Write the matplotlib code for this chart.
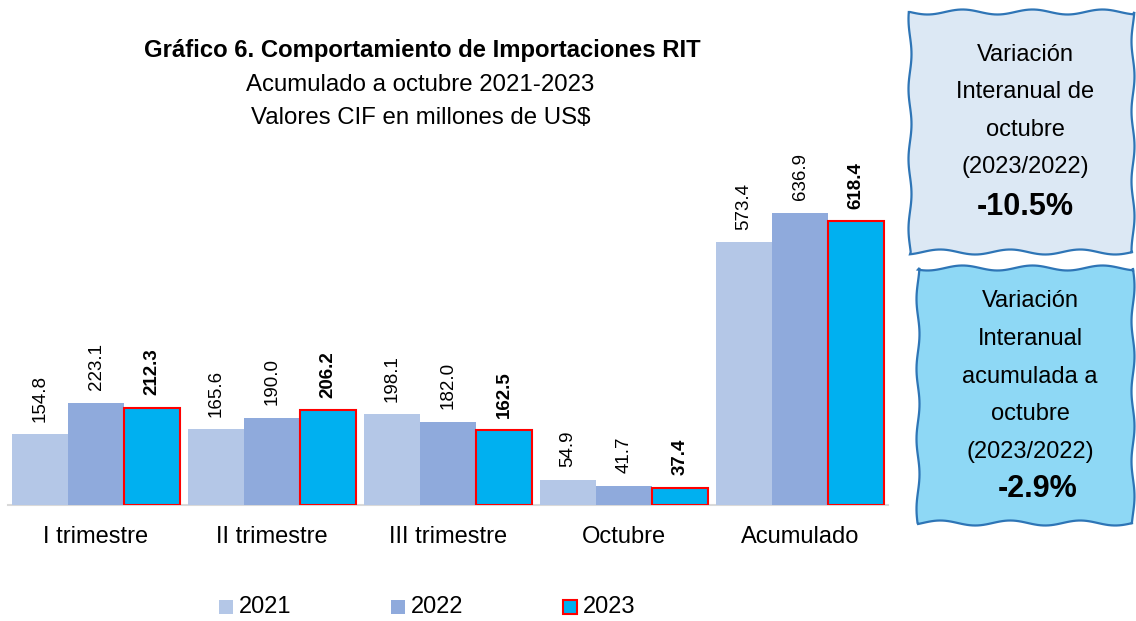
import numpy as np
import matplotlib
matplotlib.use("Agg")
import matplotlib.pyplot as plt
from matplotlib.patches import Polygon, Rectangle

categories = ["I trimestre", "II trimestre", "III trimestre", "Octubre", "Acumulado"]
series_names = ["2021", "2022", "2023"]
v2021 = [154.8, 165.6, 198.1, 54.9, 573.4]
v2022 = [223.1, 190.0, 182.0, 41.7, 636.9]
v2023 = [212.3, 206.2, 162.5, 37.4, 618.4]
box1_lines = ["Variación", "Interanual de", "octubre", "(2023/2022)"]
box1_value = "-10.5%"
box2_lines = ["Variación", "Interanual", "acumulada a", "octubre", "(2023/2022)"]
box2_value = "-2.9%"

FONT = ["Liberation Sans Narrow", "Liberation Sans", "DejaVu Sans"]
plt.rcParams['font.family'] = FONT

W, H = 1136, 621
fig = plt.figure(figsize=(W / 100, H / 100), dpi=100)
fig.patch.set_facecolor("white")

# axes: x 8..888 px, y baseline 505, top 30
ax_left, ax_right = 8, 888
ax_bottom, ax_top = 505, 30
ax = fig.add_axes([ax_left / W, 1 - ax_bottom / H, (ax_right - ax_left) / W, (ax_bottom - ax_top) / H])
scale = 0.4585  # px per unit
ax.set_ylim(0, (ax_bottom - ax_top) / scale)
ax.set_xlim(-0.5, 4.5)

colors = ["#b4c7e7", "#8faadc", "#00b0f0"]
edges = [None, None, "#ff0000"]
w = 0.318
x = np.arange(len(categories))
for k, (vals, c, e) in enumerate(zip([v2021, v2022, v2023], colors, edges)):
    pos = x + (k - 1) * w
    if e:
        ax.bar(pos, vals, width=w, color=c, edgecolor=e, linewidth=1.5, zorder=3)
    else:
        ax.bar(pos, vals, width=w, color=c, edgecolor="none", linewidth=0, zorder=3)
    for p, v in zip(pos, vals):
        ax.annotate(f"{v:.1f}", (p, v), xytext=(0, 9), textcoords="offset points",
                    rotation=90, ha="center", va="bottom", fontsize=13.5,
                    fontweight="bold" if k == 2 else "normal", color="black")

for s in ["top", "right", "left"]:
    ax.spines[s].set_visible(False)
ax.spines["bottom"].set_color("#d9d9d9")
ax.spines["bottom"].set_linewidth(1.5)
ax.set_yticks([])
ax.set_xticks(x)
ax.set_xticklabels(categories, fontsize=17)
ax.tick_params(axis="x", length=0, pad=15)
ax.set_facecolor("none")

# title
fig.text(422 / W, 1 - 50 / H, "Gráfico 6. Comportamiento de Importaciones RIT", ha="center", va="center",
         fontsize=17.2, fontweight="bold")
fig.text(420 / W, 1 - 85 / H, "Acumulado a octubre 2021-2023", ha="center", va="center", fontsize=17.3)
fig.text(421 / W, 1 - 118 / H, "Valores CIF en millones de US$", ha="center", va="center", fontsize=17.3)

# legend (manual)
leg_y = 607
for name, c, e, lx in zip(series_names, colors, edges, [219, 391, 563]):
    fig.patches.append(Rectangle(((lx) / W, 1 - (leg_y + 7) / H), 14 / W, 14 / H, transform=fig.transFigure,
                                 facecolor=c, edgecolor=e if e else "none", linewidth=1.5))
    fig.text((lx + 20) / W, 1 - leg_y / H, name, ha="left", va="center", fontsize=17)

# wavy boxes
def wavy_box(x0, y0, x1, y1, face, edge, amp=2.5, per=70):
    pts = []
    n = 80
    xs = np.linspace(x0, x1, n)
    pts += [(xx, y0 + amp * np.sin(xx / per * 2 * np.pi)) for xx in xs]
    ys = np.linspace(y0, y1, n)
    pts += [(x1 + amp * 0.6 * np.sin(yy / per * 2 * np.pi + 1), yy) for yy in ys]
    xs = np.linspace(x1, x0, n)
    pts += [(xx, y1 + amp * np.sin(xx / per * 2 * np.pi + 2)) for xx in xs]
    ys = np.linspace(y1, y0, n)
    pts += [(x0 + amp * 0.6 * np.sin(yy / per * 2 * np.pi + 3), yy) for yy in ys]
    pts = [(px / W, 1 - py / H) for px, py in pts]
    fig.patches.append(Polygon(pts, closed=True, transform=fig.transFigure,
                               facecolor=face, edgecolor=edge, linewidth=1.6))

wavy_box(910, 12, 1133, 252, "#dce8f4", "#2e75b6")
wavy_box(918, 268, 1133, 523, "#8ed8f5", "#2e75b6")

for i, t in enumerate(box1_lines):
    fig.text(1025 / W, 1 - (55 + 37.3 * i) / H, t, ha="center", va="center", fontsize=17)
fig.text(1025 / W, 1 - 207 / H, box1_value, ha="center", va="center", fontsize=22, fontweight="bold")

for i, t in enumerate(box2_lines):
    fig.text(1030 / W, 1 - (301 + 37.8 * i) / H, t, ha="center", va="center", fontsize=17)
fig.text(1038 / W, 1 - 489 / H, box2_value, ha="center", va="center", fontsize=22, fontweight="bold")

fig.savefig("out.png", dpi=100)
